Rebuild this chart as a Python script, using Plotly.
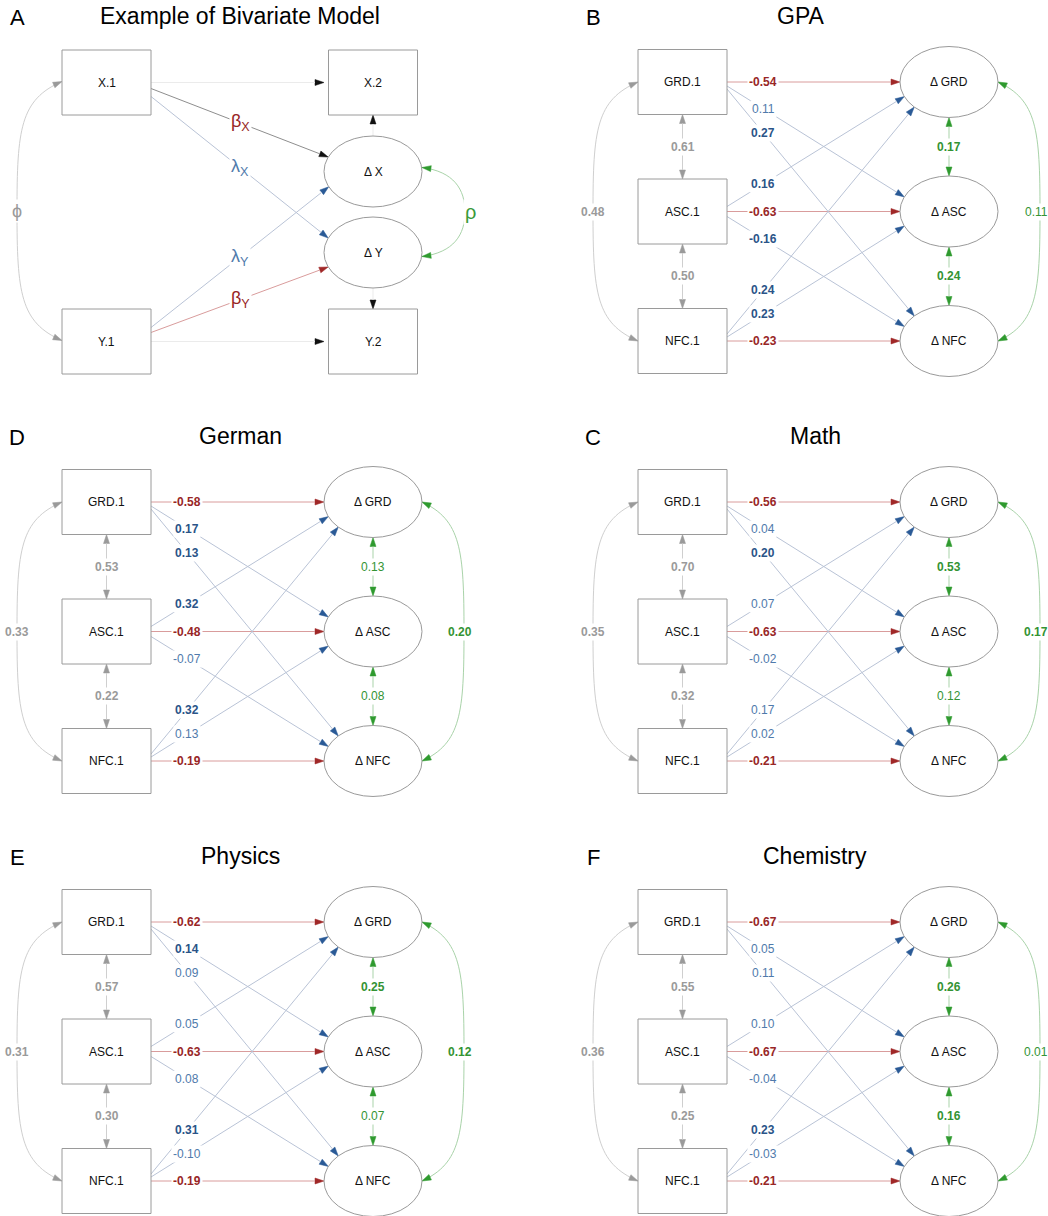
import math
import plotly.graph_objects as go

# ---------------- data ----------------
box_labels = ["GRD.1", "ASC.1", "NFC.1"]
change_labels = ["Δ GRD", "Δ ASC", "Δ NFC"]

panel_letters = ["B", "D", "C", "E", "F"]
panel_titles = ["GPA", "German", "Math", "Physics", "Chemistry"]
panel_cols = [1, 0, 1, 0, 1]
panel_rows = [0, 1, 1, 2, 2]

# autoregressive paths: GRD.1->ΔGRD, ASC.1->ΔASC, NFC.1->ΔNFC
auto_gpa = [-0.54, -0.63, -0.23]
auto_ger = [-0.58, -0.48, -0.19]
auto_mat = [-0.56, -0.63, -0.21]
auto_phy = [-0.62, -0.63, -0.19]
auto_che = [-0.67, -0.67, -0.21]

# cross paths: GRD->ΔASC, GRD->ΔNFC, ASC->ΔGRD, ASC->ΔNFC, NFC->ΔGRD, NFC->ΔASC
cross_gpa = [0.11, 0.27, 0.16, -0.16, 0.24, 0.23]
cross_ger = [0.17, 0.13, 0.32, -0.07, 0.32, 0.13]
cross_mat = [0.04, 0.20, 0.07, -0.02, 0.17, 0.02]
cross_phy = [0.14, 0.09, 0.05, 0.08, 0.31, -0.10]
cross_che = [0.05, 0.11, 0.10, -0.04, 0.23, -0.03]
cross_sig_gpa = [0, 1, 1, 1, 1, 1]
cross_sig_ger = [1, 1, 1, 0, 1, 0]
cross_sig_mat = [0, 1, 0, 0, 0, 0]
cross_sig_phy = [1, 0, 0, 0, 1, 0]
cross_sig_che = [0, 0, 0, 0, 1, 0]

# correlations at T1: GRD-ASC, ASC-NFC, GRD-NFC
t1_gpa = [0.61, 0.50, 0.48]
t1_ger = [0.53, 0.22, 0.33]
t1_mat = [0.70, 0.32, 0.35]
t1_phy = [0.57, 0.30, 0.31]
t1_che = [0.55, 0.25, 0.36]

# correlated change: ΔGRD-ΔASC, ΔASC-ΔNFC, ΔGRD-ΔNFC
chg_gpa = [0.17, 0.24, 0.11]
chg_ger = [0.13, 0.08, 0.20]
chg_mat = [0.53, 0.12, 0.17]
chg_phy = [0.25, 0.07, 0.12]
chg_che = [0.26, 0.16, 0.01]
chg_sig_gpa = [1, 1, 0]
chg_sig_ger = [0, 0, 1]
chg_sig_mat = [1, 0, 1]
chg_sig_phy = [1, 0, 1]
chg_sig_che = [1, 1, 0]

autos = [auto_gpa, auto_ger, auto_mat, auto_phy, auto_che]
crosses = [cross_gpa, cross_ger, cross_mat, cross_phy, cross_che]
cross_sigs = [cross_sig_gpa, cross_sig_ger, cross_sig_mat, cross_sig_phy, cross_sig_che]
t1s = [t1_gpa, t1_ger, t1_mat, t1_phy, t1_che]
chgs = [chg_gpa, chg_ger, chg_mat, chg_phy, chg_che]
chg_sigs = [chg_sig_gpa, chg_sig_ger, chg_sig_mat, chg_sig_phy, chg_sig_che]

# ---------------- style ----------------
FONT = "Liberation Sans, Arial, Helvetica, sans-serif"
NODE_LINE = "#9a9a9a"
RED_LINE = "#d99c9c"
RED_HEAD = "#a02828"
RED_TEXT = "#982626"
BLUE_LINE = "#b9c3d6"
BLUE_HEAD = "#2a5a96"
BLUE_TEXT_B = "#2a5488"
BLUE_TEXT_N = "#4f7aab"
GREY_LINE = "#cfcfcf"
GREY_HEAD = "#9a9a9a"
GREY_TEXT = "#9a9a9a"
GREEN_LINE = "#a9d3a9"
GREEN_HEAD = "#2f9a2f"
GREEN_TEXT_B = "#339333"
GREEN_TEXT_N = "#349434"

TITLE_X = [801, 240, 815, 240, 815]
TITLE_SIZE = 23
LETTER_SIZE = 22
EDGE_SIZE = 12

BW, BH = 89, 65
RX, RY = 49, 35.5

shapes = []
annots = []


def line(p, q, color, width=1):
    shapes.append(dict(type="line", xref="x", yref="y", x0=p[0], y0=p[1], x1=q[0], y1=q[1],
                       line=dict(color=color, width=width), layer="above"))


def head(tip, frm, color, L=9, W=3.0):
    dx, dy = tip[0] - frm[0], tip[1] - frm[1]
    d = math.hypot(dx, dy)
    ux, uy = dx / d, dy / d
    bx, by = tip[0] - L * ux, tip[1] - L * uy
    nx, ny = -uy, ux
    path = (f"M {tip[0]:.2f},{tip[1]:.2f} L {bx + W * nx:.2f},{by + W * ny:.2f} "
            f"L {bx - W * nx:.2f},{by - W * ny:.2f} Z")
    shapes.append(dict(type="path", xref="x", yref="y", path=path, fillcolor=color,
                       line=dict(color=color, width=0.5), layer="above"))
    return (bx, by)


def arrow(p, tip, lcolor, hcolor, lw=1):
    base = head(tip, p, hcolor)
    line(p, base, lcolor, lw)


def box(x0, y0, text):
    shapes.append(dict(type="rect", xref="x", yref="y", x0=x0, y0=y0, x1=x0 + BW, y1=y0 + BH,
                       line=dict(color=NODE_LINE, width=1), fillcolor="white", layer="above"))
    annots.append(dict(x=x0 + BW / 2, y=y0 + BH / 2, text=text, showarrow=False,
                       font=dict(family=FONT, size=12, color="#111"), xanchor="center", yanchor="middle"))


def ellipse(cx, cy, text):
    shapes.append(dict(type="circle", xref="x", yref="y", x0=cx - RX, x1=cx + RX, y0=cy - RY, y1=cy + RY,
                       line=dict(color=NODE_LINE, width=1), fillcolor="white", layer="above"))
    annots.append(dict(x=cx, y=cy, text=text, showarrow=False,
                       font=dict(family=FONT, size=12, color="#111"), xanchor="center", yanchor="middle"))


def label(x, y, text, color, size=EDGE_SIZE, bold=False, bg=True):
    t = f"<b>{text}</b>" if bold else text
    a = dict(x=x, y=y, text=t, showarrow=False, font=dict(family=FONT, size=size, color=color),
             xanchor="center", yanchor="middle", borderpad=1)
    if bg:
        a["bgcolor"] = "white"
    annots.append(a)


def fmt(v):
    return f"{v:.2f}"


def on_ellipse(cx, cy, dx, dy):
    s = 1.0 / math.sqrt((dx / RX) ** 2 + (dy / RY) ** 2)
    return (cx + dx * s, cy + dy * s)


def arc(xa, ya, yb, bulge, lcolor, hcolor):
    """Curved double-headed arrow from (xa, ya) to (xa, yb), bulging by `bulge` (sign = side)."""
    xc = xa + bulge
    ym = (ya + yb) / 2
    c1 = (xa + bulge * 0.93, ya + 18)
    c2 = (xc, ya + 48)
    c3 = (xc, yb - 48)
    c4 = (xa + bulge * 0.93, yb - 18)
    path = (f"M {xa},{ya} C {c1[0]},{c1[1]} {c2[0]},{c2[1]} {xc},{ym} "
            f"C {c3[0]},{c3[1]} {c4[0]},{c4[1]} {xa},{yb}")
    shapes.append(dict(type="path", xref="x", yref="y", path=path,
                       line=dict(color=lcolor, width=1), layer="above"))
    head((xa, ya), c1, hcolor)
    head((xa, yb), c4, hcolor)
    return xc, ym


# ---------------- panel A ----------------
annots.append(dict(x=17, y=17, text="A", showarrow=False, font=dict(family=FONT, size=LETTER_SIZE, color="black"),
                   xanchor="center", yanchor="middle"))
annots.append(dict(x=240, y=16, text="Example of Bivariate Model", showarrow=False,
                   font=dict(family=FONT, size=TITLE_SIZE, color="black"), xanchor="center", yanchor="middle"))

ax_bx0, ax_bx1 = 62, 151
ax_cx = 373
yX, yY = 82.5, 341.5
yDX, yDY = 171.5, 252.5
FAINT = "#ebebeb"

# phi
xc, ym = arc(ax_bx0, yX - 1, yY - 1, -45, GREY_LINE, GREY_HEAD)
label(xc, ym, "ϕ", GREY_TEXT, size=18)
# rho
xa = ax_cx + RX
path = (f"M {xa},{yDX - 4} C {xa + 32},{yDX} {xa + 43},{yDX + 18} {xa + 43},{(yDX + yDY) / 2} "
        f"C {xa + 43},{yDY - 18} {xa + 32},{yDY} {xa},{yDY + 4}")
shapes.append(dict(type="path", xref="x", yref="y", path=path, line=dict(color=GREEN_LINE, width=1), layer="above"))
head((xa, yDX - 4), (xa + 32, yDX), GREEN_HEAD)
head((xa, yDY + 4), (xa + 32, yDY), GREEN_HEAD)
label(xa + 48, (yDX + yDY) / 2, "ρ", "#3a9a3a", size=20)

# straight paths
arrow((ax_bx1, yX), (ax_cx - RX, yX), FAINT, "#111")
arrow((ax_bx1, yY), (ax_cx - RX, yY), FAINT, "#111")
arrow((ax_cx, yDX - RY), (ax_cx, 50 + BH), FAINT, "#111")
arrow((ax_cx, yDY + RY), (ax_cx, 309), FAINT, "#111")

pA = [((ax_bx1, yX + 6), on_ellipse(ax_cx, yDX, -45, -14.5), "#8e8e8e", "#111", "β<sub>X</sub>", RED_TEXT),
      ((ax_bx1, yX + 14), on_ellipse(ax_cx, yDY, -45, -14.5), BLUE_LINE, BLUE_HEAD, "λ<sub>X</sub>", BLUE_TEXT_N),
      ((ax_bx1, yY - 14), on_ellipse(ax_cx, yDX, -45, 15.5), BLUE_LINE, BLUE_HEAD, "λ<sub>Y</sub>", BLUE_TEXT_N),
      ((ax_bx1, yY - 9), on_ellipse(ax_cx, yDY, -45, 14.5), RED_LINE, RED_HEAD, "β<sub>Y</sub>", RED_TEXT)]
for p, q, lc, hc, txt, tc in pA:
    arrow(p, q, lc, hc)
    lx = 240
    ly = p[1] + (q[1] - p[1]) * (lx - p[0]) / (q[0] - p[0])
    label(lx, ly, txt, tc, size=18)

box(ax_bx0, 50, "X.1")
box(ax_bx0, 309, "Y.1")
box(ax_cx - BW / 2, 50, "X.2")
box(ax_cx - BW / 2, 309, "Y.2")
ellipse(ax_cx, yDX, "Δ X")
ellipse(ax_cx, yDY, "Δ Y")

# ---------------- panels B-F ----------------
cross_pairs = [(0, 1), (0, 2), (1, 0), (1, 2), (2, 0), (2, 1)]
start_off = {(0, 0): 0, (0, 1): 4, (0, 2): 7, (1, 0): -5, (1, 1): 0, (1, 2): 5,
             (2, 0): -7, (2, 1): -4, (2, 2): 0}
end_dir = {0: (-49, 0), 1: (-46, -15), 2: (-36, -26), -1: (-46, 15), -2: (-36, 26)}

for k in range(5):
    col, row = panel_cols[k], panel_rows[k]
    ox, oy = 576 * col, 420 * row
    bx0 = 62 + ox
    bx1 = bx0 + BW
    bcx = bx0 + BW / 2
    ecx = 373 + ox
    ys = [82 + oy, 211.5 + oy, 341 + oy]

    annots.append(dict(x=17 + ox, y=17 + oy, text=panel_letters[k], showarrow=False,
                       font=dict(family=FONT, size=LETTER_SIZE, color="black"), xanchor="center", yanchor="middle"))
    annots.append(dict(x=TITLE_X[k], y=16 + oy, text=panel_titles[k], showarrow=False,
                       font=dict(family=FONT, size=TITLE_SIZE, color="black"), xanchor="center", yanchor="middle"))

    # correlation arcs
    xc, ym = arc(bx0, ys[0], ys[2], -45, GREY_LINE, GREY_HEAD)
    label(xc, ym, fmt(t1s[k][2]), GREY_TEXT, bold=True)
    xc, ym = arc(ecx + RX, ys[0], ys[2], 42, GREEN_LINE, GREEN_HEAD)
    sig = chg_sigs[k][2]
    label(xc - 4, ym, fmt(chgs[k][2]), GREEN_TEXT_B if sig else GREEN_TEXT_N, bold=bool(sig))

    # vertical double-headed connectors
    for i in range(2):
        p = (bcx, ys[i] + BH / 2)
        q = (bcx, ys[i + 1] - BH / 2)
        b1 = head(p, q, GREY_HEAD)
        b2 = head(q, p, GREY_HEAD)
        line(b1, b2, GREY_LINE)
        label(bcx, (p[1] + q[1]) / 2, fmt(t1s[k][i]), GREY_TEXT, bold=True)

        p = (ecx, ys[i] + RY)
        q = (ecx, ys[i + 1] - RY)
        b1 = head(p, q, GREEN_HEAD)
        b2 = head(q, p, GREEN_HEAD)
        line(b1, b2, GREEN_LINE)
        sig = chg_sigs[k][i]
        label(ecx, (p[1] + q[1]) / 2, fmt(chgs[k][i]), GREEN_TEXT_B if sig else GREEN_TEXT_N, bold=bool(sig))

    # regression paths
    lx = bx1 + 36
    paths = [((i, i), autos[k][i], 1, True) for i in range(3)]
    paths += [(cross_pairs[m], crosses[k][m], cross_sigs[k][m], False) for m in range(6)]
    for (i, j), val, sig, is_auto in paths:
        p = (bx1, ys[i] + start_off[(i, j)])
        dx, dy = end_dir[j - i]
        q = on_ellipse(ecx, ys[j], dx, dy)
        if is_auto:
            arrow(p, q, RED_LINE, RED_HEAD)
            tc = RED_TEXT
        else:
            arrow(p, q, BLUE_LINE, BLUE_HEAD)
            tc = BLUE_TEXT_B if sig else BLUE_TEXT_N
        ly = p[1] + (q[1] - p[1]) * (lx - p[0]) / (q[0] - p[0])
        label(lx, ly, fmt(val), tc, bold=bool(sig))

    for i in range(3):
        box(bx0, ys[i] - BH / 2, box_labels[i])
        ellipse(ecx, ys[i], change_labels[i])

fig = go.Figure()
fig.add_trace(go.Scatter(x=[0, 1048], y=[0, 1216], mode="markers", marker=dict(opacity=0),
                         hoverinfo="skip", showlegend=False))
fig.update_layout(
    width=1048, height=1216,
    margin=dict(l=0, r=0, t=0, b=0),
    paper_bgcolor="white", plot_bgcolor="white",
    xaxis=dict(range=[0, 1048], visible=False, fixedrange=True),
    yaxis=dict(range=[1216, 0], visible=False, fixedrange=True),
    shapes=shapes, annotations=annots, showlegend=False,
)
fig.write_html("out.html", config=dict(displayModeBar=False),
               post_script="document.body.style.margin='0px';document.body.style.overflow='hidden';")
